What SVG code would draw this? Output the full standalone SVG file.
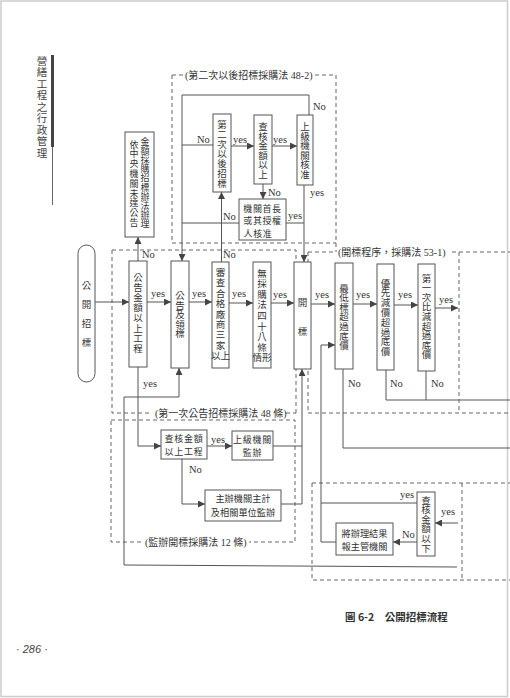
<svg xmlns="http://www.w3.org/2000/svg" width="510" height="698" viewBox="0 0 510 698">
<style>
.box{fill:#fff;stroke:#555;stroke-width:1}
.ln{fill:none;stroke:#555;stroke-width:1}
.ds{fill:none;stroke:#666;stroke-width:1;stroke-dasharray:4 3}
.cjk{font-family:"Noto Sans CJK TC","Noto Sans CJK SC",sans-serif;font-size:9.5px;fill:#333}
.h{text-anchor:middle;dominant-baseline:central}
.lbl{font-family:"Liberation Serif",serif;font-size:10.5px;fill:#333}
.ttl{font-family:"Liberation Serif","Noto Sans CJK TC",serif;font-size:10px;fill:#333;dominant-baseline:central}
</style>
<defs>
<marker id="ah" viewBox="0 0 10 10" refX="10" refY="5" markerWidth="8" markerHeight="7" markerUnits="userSpaceOnUse" orient="auto"><path d="M0,0 L10,5 L0,10 z" fill="#444"/></marker>
</defs>
<rect x="1" y="1" width="506.5" height="695.5" fill="#fff" stroke="#ccc" stroke-width="1.5"/>

<g id="header">
<text class="cjk h" style="font-size:10.5px;fill:#444" x="42 42 42 42 42 42 42 42 42" y="60 71.5 83 94.5 106 117.5 129 140.5 152">營繕工程之行政管理</text>
<rect x="51" y="55" width="3" height="92" fill="#444"/>
<path d="M52.5,147 V205" stroke="#666" stroke-width="1"/>
</g>

<g id="frames">
<path class="ds" d="M172,75 H183 M315,75 H336 M172,75 V243 H336 M336,75 V252"/>
<text class="ttl" x="185" y="75">(第二次以後招標採購法 48-2)</text>
<path class="ds" d="M112,250 H296 V413 M112,250 V413 H150 M286,413 H296"/>
<text class="ttl" x="155" y="413">(第一次公告招標採購法 48 條)</text>
<path class="ds" d="M308,252 H336 M452,252 H510 M308,252 V413 H510 M459,252 V413"/>
<text class="ttl" x="338" y="252">(開標程序，採購法 53-1)</text>
<path class="ds" d="M111,420 H295 V542 H249 M141,542 H111 V420"/>
<text class="ttl" x="145" y="542">(監辦開標採購法 12 條)</text>
<path class="ds" d="M312,483 H510 M312,483 V580 H510 M462,483 V580"/>
</g>

<g id="connectors">
<path class="ln" marker-end="url(#ah)" d="M95,302 H129"/>
<path class="ln" marker-end="url(#ah)" d="M147,302 H171"/>
<path class="ln" marker-end="url(#ah)" d="M189,302 H212"/>
<path class="ln" marker-end="url(#ah)" d="M229,303 H253"/>
<path class="ln" marker-end="url(#ah)" d="M271,303 H294"/>
<path class="ln" marker-end="url(#ah)" d="M311,304 H335"/>
<path class="ln" marker-end="url(#ah)" d="M353,304 H377"/>
<path class="ln" marker-end="url(#ah)" d="M394,305 H418"/>
<path class="ln" marker-end="url(#ah)" d="M435,308 H458"/>
<path class="ln" marker-end="url(#ah)" d="M138,261 V237"/>
<path class="ln" marker-end="url(#ah)" d="M309,115 V95 H182 V261"/>
<path class="ln" d="M182,145 H213"/>
<path class="ln" marker-end="url(#ah)" d="M231,146 H254"/>
<path class="ln" marker-end="url(#ah)" d="M272,146 H297"/>
<path class="ln" marker-end="url(#ah)" d="M263,184 V199"/>
<path class="ln" d="M239,223 H182"/>
<path class="ln" d="M286,223 H304"/>
<path class="ln" marker-end="url(#ah)" d="M304,185 V262"/>
<path class="ln" marker-end="url(#ah)" d="M221.5,262 V192"/>
<path class="ln" marker-end="url(#ah)" d="M138,367 V446 H161"/>
<path class="ln" marker-end="url(#ah)" d="M207,446 H232"/>
<path class="ln" marker-end="url(#ah)" d="M182,459 V504 H205"/>
<path class="ln" d="M273,446 H302 M281,504 H302"/>
<path class="ln" marker-end="url(#ah)" d="M302,504 V369"/>
<path class="ln" marker-end="url(#ah)" d="M457,567 L124,565 V397 H179 V368"/>
<path class="ln" d="M343,369 V448 H510"/>
<path class="ln" d="M386,370 V400 H510 M426,371 V400"/>
<path class="ln" marker-end="url(#ah)" d="M336,542 H321 V345 H335"/>
<path class="ln" d="M417,503 H321"/>
<path class="ln" marker-end="url(#ah)" d="M417,542 H393"/>
<path class="ln" marker-end="url(#ah)" d="M458,523 H435"/>
<g class="lbl">
<text x="151" y="297">yes</text><text x="192" y="297">yes</text><text x="232" y="297">yes</text>
<text x="273" y="298">yes</text><text x="315" y="298">yes</text><text x="356" y="298">yes</text>
<text x="398" y="298">yes</text><text x="439" y="303">yes</text>
<text x="142" y="258">No</text><text x="223" y="258">No</text><text x="143" y="387">yes</text>
<text x="313" y="110">No</text><text x="197" y="143">No</text><text x="233" y="143">yes</text>
<text x="273" y="143">yes</text><text x="268" y="196">No</text><text x="223" y="220">No</text>
<text x="288" y="219">yes</text><text x="310" y="196">yes</text>
<text x="211" y="443">yes</text><text x="189" y="473">No</text>
<text x="348" y="387">No</text><text x="390" y="387">No</text><text x="431" y="387">No</text>
<text x="400" y="498">yes</text><text x="441" y="515">yes</text><text x="402" y="538">No</text>
</g>
</g>

<g id="n-start"><rect class="box" x="78" y="245" width="17" height="137" rx="8.5"/>
<text class="cjk h" x="86.5 86.5 86.5 86.5" y="285 304 323 342">公開招標</text></g>
<g id="n-amount"><rect class="box" x="129" y="261" width="18" height="106"/>
<text class="cjk h" x="138 138 138 138 138 138 138 138" y="277 287.1 297.2 307.3 317.4 327.5 337.6 347.7">公告金額以上工程</text></g>
<g id="n-announce"><rect class="box" x="171" y="261" width="18" height="107"/>
<text class="cjk h" x="180 180 180 180 180" y="295 304.5 314 323.5 333">公告及領標</text></g>
<g id="n-review"><rect class="box" x="212" y="262" width="17" height="106"/>
<text class="cjk h" x="220.5 220.5 220.5 220.5 220.5 220.5 220.5 220.5 220.5" y="272 282.4 292.8 303.2 313.6 324 334.4 344.8 355.2">審查合格廠商三家以上</text></g>
<g id="n-no48"><rect class="box" x="253" y="262" width="18" height="106"/>
<text class="cjk h" x="262 262 262 262 262 262 262 262 262" y="272.5 283.1 293.7 304.3 314.9 325.5 336.1 346.7 357.3">無採購法四十八條情形</text></g>
<g id="n-open"><rect class="box" x="294" y="262" width="17" height="107"/>
<text class="cjk h" x="302.5 302.5" y="302 331">開標</text></g>
<g id="n-lowest"><rect class="box" x="335" y="263" width="18" height="106"/>
<text class="cjk h" x="344 344 344 344 344 344 344" y="287.5 297.1 306.7 316.3 325.9 335.5 345.1">最低標超過底價</text></g>
<g id="n-priority"><rect class="box" x="377" y="264" width="17" height="106"/>
<text class="cjk h" x="385.5 385.5 385.5 385.5 385.5 385.5 385.5 385.5" y="282.5 292.3 302.1 311.9 321.7 331.5 341.3 351.1">優先減價超過底價</text></g>
<g id="n-first"><rect class="box" x="418" y="264" width="17" height="107"/>
<text class="cjk h" x="426.5 426.5 426.5 426.5 426.5 426.5 426.5 426.5 426.5" y="277.5 287.1 296.7 306.3 315.9 325.5 335.1 344.7 354.3">第一次比減超過底價</text></g>

<g id="n-central"><rect class="box" x="125" y="132" width="29" height="105"/>
<text class="cjk h" style="font-size:9px" x="145 145 145 145 145 145 145 145 145 145" y="141 150.2 159.4 168.6 177.8 187 196.2 205.4 214.6 223.8">金額採購招標辦法辦理</text>
<text class="cjk h" style="font-size:9px" x="134 134 134 134 134 134 134 134 134" y="144 153.8 163.6 173.4 183.2 193 202.8 212.6 222.4">依中央機關未達公告</text></g>
<g id="n-second"><rect class="box" x="213" y="114" width="18" height="78"/>
<text class="cjk h" x="222 222 222 222 222 222 222" y="124 133.75 143.5 153.25 163 172.75 182.5">第二次以後招標</text></g>
<g id="n-check2"><rect class="box" x="254" y="115" width="18" height="69"/>
<text class="cjk h" x="263 263 263 263 263 263" y="126 135.6 145.2 154.8 164.4 174">查核金額以上</text></g>
<g id="n-approve"><rect class="box" x="297" y="115" width="16" height="70"/>
<text class="cjk h" x="305 305 305 305 305 305" y="126 135.6 145.2 154.8 164.4 174">上級機關核准</text></g>
<g id="n-head"><rect class="box" x="239" y="199" width="47" height="41"/>
<text class="cjk h" x="262.5" y="208" style="font-size:9px;letter-spacing:0.6px">機關首長</text>
<text class="cjk h" x="262.5" y="220.5" style="font-size:9px;letter-spacing:0.6px">或其授權</text>
<text class="cjk h" x="258" y="233" style="font-size:9px;letter-spacing:0.6px">人核准</text></g>

<g id="n-check-lower"><rect class="box" x="161" y="430" width="46" height="29"/>
<text class="cjk h" x="184" y="438.5" style="font-size:9px;letter-spacing:0.8px">查核金額</text>
<text class="cjk h" x="184" y="451" style="font-size:9px;letter-spacing:0.8px">以上工程</text></g>
<g id="n-supervise"><rect class="box" x="232" y="431" width="41" height="29"/>
<text class="cjk h" x="252.5" y="439" style="font-size:9px;letter-spacing:0.8px">上級機關</text>
<text class="cjk h" x="252.5" y="452" style="font-size:9px;letter-spacing:0.8px">監辦</text></g>
<g id="n-host"><rect class="box" x="205" y="490" width="76" height="31"/>
<text class="cjk h" x="243" y="498" style="font-size:9.2px">主辦機關主計</text>
<text class="cjk h" x="243" y="512" style="font-size:9.2px">及相關單位監辦</text></g>
<g id="n-report"><rect class="box" x="336" y="523" width="57" height="32"/>
<text class="cjk h" x="364.5" y="533" style="font-size:9.2px">將辦理結果</text>
<text class="cjk h" x="364.5" y="546" style="font-size:9.2px">報主管機關</text></g>
<g id="n-check-below"><rect class="box" x="417" y="492" width="18" height="64"/>
<text class="cjk h" x="426 426 426 426 426 426" y="499.5 509.1 518.7 528.3 537.9 547.5">查核金額以下</text></g>

<g id="caption">
<text x="345" y="621" style="font-family:'Noto Sans CJK TC',sans-serif;font-size:10.5px;font-weight:bold;fill:#333">圖 6-2　公開招標流程</text>
<text x="16" y="653" style="font-family:'Liberation Sans',sans-serif;font-size:11px;fill:#444">· <tspan font-style="italic">286</tspan> ·</text>
</g>
</svg>
